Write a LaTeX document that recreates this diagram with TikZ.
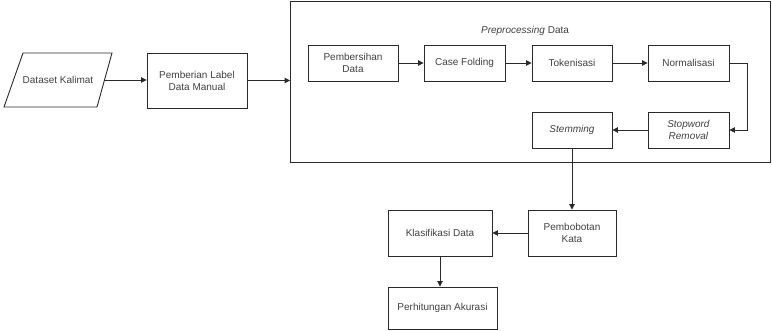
\documentclass[tikz,border=0pt]{standalone}
\usepackage{fontspec}
\setmainfont{Liberation Sans}
\usetikzlibrary{arrows.meta,calc}
\definecolor{txt}{HTML}{404040}
\definecolor{ln}{HTML}{2A2A2A}
\begin{document}
\begin{tikzpicture}[x=1pt,y=-1pt,
  box/.style={draw=ln,line width=0.9pt,rectangle,align=center,text=txt,
    font=\fontsize{10}{12}\selectfont,inner sep=1pt},
  lbltext/.style={text=txt,font=\fontsize{10}{12}\selectfont,align=center},
  arr/.style={draw=ln,line width=0.9pt,-{Triangle[width=5.5pt,length=5.5pt]}}]
\useasboundingbox (0,0) rectangle (772,331);
% outer preprocessing frame
\node[draw=ln,line width=0.9pt,rectangle,minimum width=480pt,minimum height=161pt,inner sep=0pt] (pre) at (530.5,81.5) {};
\node[lbltext] (title) at (525,31) {\textit{Preprocessing} Data};
% input parallelogram
\coordinate (p1) at (4,107);
\coordinate (p2) at (23,53);
\coordinate (p3) at (112,53);
\coordinate (p4) at (97,107);
\draw[draw=ln,line width=0.9pt] (p1) -- (p2) -- (p3) -- (p4) -- cycle;
\node[lbltext] (ds) at (58,80) {Dataset Kalimat};
\coordinate (dsout) at ($(p3)!0.5!(p4)$);
% left part
\node[box,minimum width=100pt,minimum height=55pt] (lbl) at (197,80.5) {Pemberian Label\\Data Manual};
% inner steps
\node[box,minimum width=90pt,minimum height=36pt] (pb) at (353,63) {Pembersihan\\Data};
\node[box,minimum width=81pt,minimum height=36pt] (cf) at (464.5,63) {Case Folding};
\node[box,minimum width=80pt,minimum height=36pt] (tk) at (572,63) {Tokenisasi};
\node[box,minimum width=81pt,minimum height=36pt] (nm) at (688.5,63) {Normalisasi};
\node[box,minimum width=81pt,minimum height=36pt] (sw) at (688.5,130) {\textit{Stopword}\\\textit{Removal}};
\node[box,minimum width=80pt,minimum height=36pt] (st) at (572,130) {\textit{Stemming}};
% lower part
\node[box,minimum width=88pt,minimum height=46pt] (pk) at (572,233) {Pembobotan\\Kata};
\node[box,minimum width=104pt,minimum height=46pt] (kl) at (440,233) {Klasifikasi Data};
\node[box,minimum width=109pt,minimum height=42pt] (ph) at (442.5,308) {Perhitungan Akurasi};
\coordinate (bend) at (747,63);
% connectors
\draw[arr] (dsout) -- (lbl.west |- dsout);
\draw[arr] (lbl.east) -- (lbl.east -| pre.west);
\draw[arr] (pb) -- (cf);
\draw[arr] (cf) -- (tk);
\draw[arr] (tk) -- (nm);
\draw[arr] (nm.east) -- (bend) |- (sw.east);
\draw[arr] (sw) -- (st);
\draw[arr] (st.south) -- (pk.north);
\draw[arr] (pk) -- (kl);
\draw[arr] (kl.south) -- (kl.south |- ph.north);
\end{tikzpicture}
\end{document}
